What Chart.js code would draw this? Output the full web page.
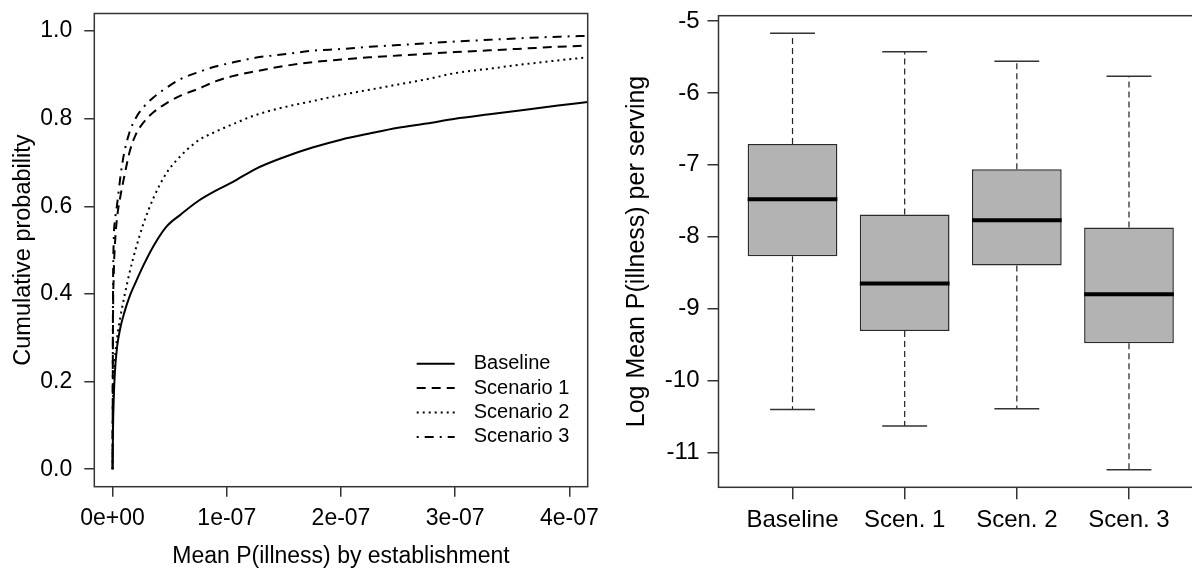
<!DOCTYPE html>
<html>
<head>
<meta charset="utf-8">
<script src="https://cdn.jsdelivr.net/npm/chart.js@4.4.1/dist/chart.umd.min.js"></script>
<style>
  html, body { margin: 0; padding: 0; background: #fff; overflow: hidden; }
  body { width: 1192px; height: 568px; position: relative; }
  #cdfChart { position: absolute; left: 0; top: 0; }
  #boxChart { position: absolute; left: 600px; top: 0; }
</style>
</head>
<body>
<canvas id="cdfChart" width="600" height="568"></canvas>
<canvas id="boxChart" width="620" height="568"></canvas>
<script>
// cumulative curves, x in units of 1e-7
const probGrid = [0, 0.003, 0.01, 0.02, 0.04, 0.07, 0.1, 0.15, 0.2, 0.27, 0.36, 0.47, 0.6, 0.75,
  0.9, 1.05, 1.25, 1.5, 1.75, 2.0, 2.25, 2.5, 2.75, 3.0, 3.3, 3.6, 3.9, 4.16];
const baseline = [0, 0.08, 0.16, 0.22, 0.28, 0.325, 0.355, 0.395, 0.425, 0.465, 0.51, 0.553, 0.582, 0.612,
  0.635, 0.655, 0.685, 0.712, 0.734, 0.752, 0.766, 0.779, 0.789, 0.800, 0.810, 0.820, 0.830, 0.838];
const scenario1 = [0, 0.30, 0.44, 0.51, 0.575, 0.625, 0.665, 0.725, 0.762, 0.791, 0.815, 0.835, 0.853, 0.868,
  0.885, 0.897, 0.908, 0.920, 0.929, 0.935, 0.940, 0.944, 0.948, 0.952, 0.956, 0.960, 0.964, 0.967];
const scenario2 = [0, 0.12, 0.20, 0.25, 0.30, 0.35, 0.39, 0.45, 0.50, 0.56, 0.62, 0.675, 0.716, 0.750,
  0.770, 0.787, 0.808, 0.826, 0.840, 0.854, 0.866, 0.878, 0.890, 0.904, 0.914, 0.924, 0.933, 0.940];
const scenario3 = [0, 0.35, 0.52, 0.565, 0.605, 0.67, 0.72, 0.77, 0.80, 0.826, 0.849, 0.870, 0.891, 0.906,
  0.919, 0.928, 0.939, 0.947, 0.955, 0.959, 0.964, 0.968, 0.972, 0.976, 0.980, 0.984, 0.987, 0.989];
const seriesNames = ["Baseline", "Scenario 1", "Scenario 2", "Scenario 3"];
const xTicks = [0, 1e-7, 2e-7, 3e-7, 4e-7];
const xTickLabels = ["0e+00", "1e-07", "2e-07", "3e-07", "4e-07"];
const yTicks = [0, 0.2, 0.4, 0.6, 0.8, 1.0];

// log mean P(illness) per serving, five-number summaries
const boxLabels = ["Baseline", "Scen. 1", "Scen. 2", "Scen. 3"];
const whiskerLow = [-10.40, -10.63, -10.39, -11.24];
const q1 = [-8.27, -9.31, -8.40, -9.48];
const median = [-7.48, -8.65, -7.77, -8.80];
const q3 = [-6.71, -7.69, -7.06, -7.87];
const whiskerHigh = [-5.17, -5.43, -5.56, -5.77];
const boxTicks = [-11, -10, -9, -8, -7, -6, -5];

const FONT = "'Liberation Sans', Arial, sans-serif";
Chart.defaults.font.family = FONT;
Chart.defaults.color = "#000";
Chart.defaults.animation = false;

// R style extended range: 4% each side
function padRange(lo, hi) {
  const d = (hi - lo) * 0.04;
  return [lo - d, hi + d];
}

// fixed axis size, no extra room for overhanging labels
function fixSize(prop, size) {
  return s => {
    s[prop] = size;
    s.paddingLeft = s.paddingRight = s.paddingTop = s.paddingBottom = 0;
  };
}

const frame = {
  id: "frame",
  afterDraw(chart) {
    const { ctx, chartArea: a } = chart;
    ctx.save();
    ctx.strokeStyle = "#333";
    ctx.lineWidth = 1.5;
    ctx.strokeRect(a.left, a.top, a.right - a.left, a.bottom - a.top);
    ctx.restore();
  }
};

const cdfLegend = {
  id: "cdfLegend",
  afterDatasetsDraw(chart) {
    const { ctx, chartArea: a } = chart;
    const x0 = a.right - 171;
    const y0 = a.bottom - 123;
    ctx.save();
    ctx.font = "20px " + FONT;
    ctx.textBaseline = "middle";
    ctx.fillStyle = "#000";
    chart.data.datasets.forEach((ds, i) => {
      const y = y0 + i * 24.4;
      ctx.beginPath();
      ctx.setLineDash(ds.borderDash);
      ctx.lineWidth = ds.borderWidth;
      ctx.strokeStyle = ds.borderColor;
      ctx.moveTo(x0, y);
      ctx.lineTo(x0 + 38, y);
      ctx.stroke();
      ctx.fillText(ds.label, x0 + 57, y);
    });
    ctx.restore();
  }
};

const dashes = [[], [9, 6], [2, 4], [2, 6, 9, 6]];
const curves = [baseline, scenario1, scenario2, scenario3];

const [xMin, xMax] = padRange(0, 4e-7);
const [yMin, yMax] = padRange(0, 1);

new Chart(document.getElementById("cdfChart"), {
  type: "scatter",
  data: {
    datasets: curves.map((c, k) => ({
      label: seriesNames[k],
      data: probGrid.map((g, i) => ({ x: g * 1e-7, y: c[i] })),
      showLine: true,
      borderColor: "#000",
      borderWidth: 2,
      borderDash: dashes[k],
      pointRadius: 0,
      cubicInterpolationMode: "monotone"
    }))
  },
  options: {
    responsive: false,
    layout: { padding: { top: 13.5, right: 12.3, left: 0, bottom: 0 } },
    plugins: { legend: { display: false }, tooltip: { enabled: false } },
    scales: {
      x: {
        type: "linear",
        min: xMin,
        max: xMax,
        afterBuildTicks: s => { s.ticks = xTicks.map(v => ({ value: v })); },
        afterFit: fixSize("height", 81.3),
        border: { display: false },
        grid: { drawOnChartArea: false, tickLength: 10, color: "#333", lineWidth: 1.5 },
        ticks: { autoSkip: false, maxRotation: 0, padding: 8, font: { size: 23 },
          callback: (v, i) => xTickLabels[i] },
        title: { display: true, text: "Mean P(illness) by establishment",
          font: { size: 23, lineHeight: 1 }, padding: { top: 0, bottom: 0 } }
      },
      y: {
        min: yMin,
        max: yMax,
        afterBuildTicks: s => { s.ticks = yTicks.map(v => ({ value: v })); },
        afterFit: fixSize("width", 94.3),
        border: { display: false },
        grid: { drawOnChartArea: false, tickLength: 10, color: "#333", lineWidth: 1.5 },
        ticks: { padding: 12, font: { size: 23 }, callback: v => v.toFixed(1) },
        title: { display: true, text: "Cumulative probability",
          font: { size: 23.5, lineHeight: 1 }, padding: { top: 12, bottom: 0 } }
      }
    }
  },
  plugins: [frame, cdfLegend]
});

const whiskers = {
  id: "whiskers",
  afterDatasetsDraw(chart) {
    const { ctx } = chart;
    const y = chart.scales.y;
    const bars = chart.getDatasetMeta(0).data;
    ctx.save();
    bars.forEach((bar, i) => {
      const half = bar.width / 2;
      const cap = bar.width / 4;
      const yLo = y.getPixelForValue(whiskerLow[i]);
      const yHi = y.getPixelForValue(whiskerHigh[i]);
      ctx.strokeStyle = "#222";
      ctx.lineWidth = 1.2;
      ctx.setLineDash([6, 4]);
      ctx.beginPath();
      ctx.moveTo(bar.x, y.getPixelForValue(q3[i]));
      ctx.lineTo(bar.x, yHi);
      ctx.moveTo(bar.x, y.getPixelForValue(q1[i]));
      ctx.lineTo(bar.x, yLo);
      ctx.stroke();
      ctx.setLineDash([]);
      ctx.lineWidth = 1.5;
      ctx.strokeStyle = "#333";
      ctx.beginPath();
      ctx.moveTo(bar.x - cap, yHi);
      ctx.lineTo(bar.x + cap, yHi);
      ctx.moveTo(bar.x - cap, yLo);
      ctx.lineTo(bar.x + cap, yLo);
      ctx.stroke();
      const ym = y.getPixelForValue(median[i]);
      ctx.lineWidth = 4;
      ctx.strokeStyle = "#000";
      ctx.beginPath();
      ctx.moveTo(bar.x - half, ym);
      ctx.lineTo(bar.x + half, ym);
      ctx.stroke();
    });
    ctx.restore();
  }
};

const [bMin, bMax] = padRange(Math.min(...whiskerLow), Math.max(...whiskerHigh));
const [cMin, cMax] = padRange(0.5, boxLabels.length + 0.5);

new Chart(document.getElementById("boxChart"), {
  type: "bar",
  data: {
    datasets: [{
      data: boxLabels.map((_, i) => ({ x: i + 1, y: [q1[i], q3[i]] })),
      backgroundColor: "#B3B3B3",
      borderColor: "#2a2a2a",
      borderWidth: 1.5,
      borderSkipped: false,
      categoryPercentage: 0.8,
      barPercentage: 1
    }]
  },
  options: {
    responsive: false,
    layout: { padding: { top: 15.7, right: 17, left: 0, bottom: 0 } },
    plugins: { legend: { display: false }, tooltip: { enabled: false } },
    scales: {
      x: {
        type: "linear",
        offset: false,
        min: cMin,
        max: cMax,
        afterBuildTicks: s => { s.ticks = boxLabels.map((_, i) => ({ value: i + 1 })); },
        afterFit: fixSize("height", 80.7),
        border: { display: false },
        grid: { offset: false, drawOnChartArea: false, tickLength: 12, color: "#333", lineWidth: 1.5 },
        ticks: { autoSkip: false, maxRotation: 0, padding: 7, font: { size: 24 },
          callback: (v, i) => boxLabels[i] }
      },
      y: {
        min: bMin,
        max: bMax,
        afterBuildTicks: s => { s.ticks = boxTicks.map(v => ({ value: v })); },
        afterFit: fixSize("width", 118.5),
        border: { display: false },
        grid: { drawOnChartArea: false, tickLength: 11, color: "#333", lineWidth: 1.5 },
        ticks: { padding: 8, font: { size: 24 }, callback: v => String(v) },
        title: { display: true, text: "Log Mean P(illness) per serving",
          font: { size: 25, lineHeight: 1 }, padding: { top: 25, bottom: 0 } }
      }
    }
  },
  plugins: [frame, whiskers]
});
</script>
</body>
</html>
